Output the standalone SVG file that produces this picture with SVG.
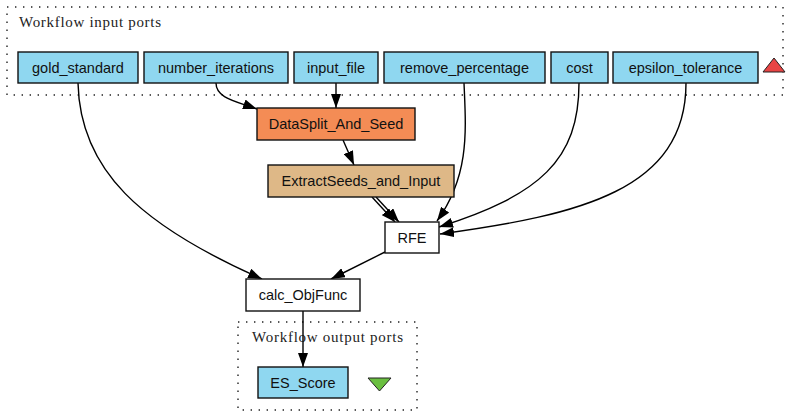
<svg xmlns="http://www.w3.org/2000/svg" width="787" height="413" viewBox="0 0 787 413">
<style>
.cluster{fill:none;stroke:#222;stroke-width:1.4;stroke-dasharray:1.4 6.6}
.ctitle{font-family:"Liberation Serif",serif;font-size:15px;fill:#222}
.node rect{stroke:#111;stroke-width:1.4}
.node text{font-family:"Liberation Sans",Arial,sans-serif;font-size:14.5px;fill:#111;text-anchor:middle}
.port rect{fill:#8fd7f0}
.edges path{fill:none;stroke:#000;stroke-width:1.4;marker-end:url(#arr)}
</style>
<defs>
<marker id="arr" viewBox="0 0 14 10" refX="14" refY="5" markerWidth="14" markerHeight="10" markerUnits="userSpaceOnUse" orient="auto">
<path d="M0,0 L14,5 L0,10 z" fill="#000"/>
</marker>
</defs>
<rect width="787" height="413" fill="#fff"/>
<g id="cluster_inputs">
<rect class="cluster" x="7" y="7" width="776" height="88"/>
<text class="ctitle" x="19" y="27" textLength="142">Workflow input ports</text>
</g>
<g id="cluster_outputs">
<rect class="cluster" x="238" y="322" width="179" height="88"/>
<text class="ctitle" x="252" y="342" textLength="151">Workflow output ports</text>
</g>
<g class="edges" id="connectors">
<path d="M78,83 C80,170 140,225 262,279"/>
<path d="M216,83 C216,98 235,101 257,109"/>
<path d="M336,83 L336,108"/>
<path d="M343,140 L354,165"/>
<path d="M372,197 L395,222"/>
<path d="M376,197 L399,222"/>
<path d="M464,83 C466,130 470,175 437,221"/>
<path d="M579,83 C579,160 540,195 439,227"/>
<path d="M686,83 C686,190 580,215 440,234"/>
<path d="M385,252 L331,279"/>
<path d="M303,311 L303,367"/>
</g>
<g id="gold_standard" class="node port"><rect x="18" y="52" width="120" height="31"/><text x="78" y="72.5">gold_standard</text></g>
<g id="number_iterations" class="node port"><rect x="144" y="52" width="144" height="31"/><text x="216" y="72.5">number_iterations</text></g>
<g id="input_file" class="node port"><rect x="294" y="52" width="84" height="31"/><text x="336" y="72.5">input_file</text></g>
<g id="remove_percentage" class="node port"><rect x="384" y="52" width="161" height="31"/><text x="464.5" y="72.5">remove_percentage</text></g>
<g id="cost" class="node port"><rect x="551" y="52" width="57" height="31"/><text x="579.5" y="72.5">cost</text></g>
<g id="epsilon_tolerance" class="node port"><rect x="613" y="52" width="145" height="31"/><text x="685.5" y="72.5">epsilon_tolerance</text></g>
<g id="input_marker"><polygon points="763,72 774,58 785,72" fill="#e84444" stroke="#222" stroke-width="1"/></g>
<g id="DataSplit_And_Seed" class="node"><rect x="257" y="108" width="158" height="32" fill="#f48c55"/><text x="336" y="129">DataSplit_And_Seed</text></g>
<g id="ExtractSeeds_and_Input" class="node"><rect x="268" y="165" width="186" height="32" fill="#deb887"/><text x="361" y="186">ExtractSeeds_and_Input</text></g>
<g id="RFE" class="node"><rect x="385" y="222" width="54" height="31" fill="#fff"/><text x="412" y="242.5">RFE</text></g>
<g id="calc_ObjFunc" class="node"><rect x="246" y="279" width="114" height="32" fill="#fff"/><text x="303" y="300">calc_ObjFunc</text></g>
<g id="ES_Score" class="node port"><rect x="258" y="367" width="90" height="31"/><text x="303" y="387.5">ES_Score</text></g>
<g id="output_marker"><polygon points="368,378 391,378 379.5,391" fill="#6abf40" stroke="#222" stroke-width="1"/></g>
</svg>
